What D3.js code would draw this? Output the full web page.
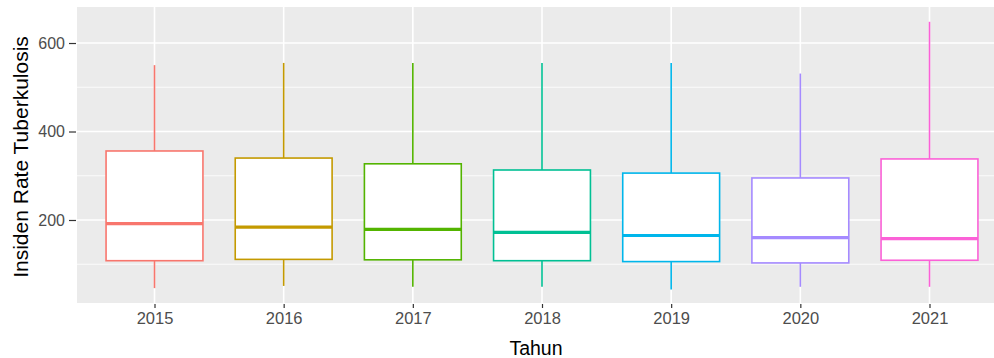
<!DOCTYPE html>
<html><head><meta charset="utf-8">
<script src="https://cdn.jsdelivr.net/npm/d3@7"></script>
<style>body{margin:0;background:#fff;overflow:hidden}svg{display:block}</style>
</head><body>
<svg id="c" width="994" height="358"></svg>
<script>
const years = ["2015","2016","2017","2018","2019","2020","2021"];
const whiskerLow = [46, 51, 49, 49, 43, 49, 49];
const q1 = [108, 111, 110, 108, 106, 103, 109];
const median = [192, 184, 179, 172, 165, 160, 158];
const q3 = [356, 340, 327, 313, 306, 295, 338];
const whiskerHigh = [550, 555, 555, 555, 555, 531, 648];
const colors = ["#F8766D","#C49A00","#53B400","#00C094","#00B6EB","#A58AFF","#FB61D7"];
const yTicks = [200, 400, 600];
const yMinor = [100, 300, 500];

const svg = d3.select("#c");
const L = 77, R = 1007, T = 7, B = 303;
const x = d3.scalePoint().domain(years).range([L, R]).padding(0.6);
const y = d3.scaleLinear().domain([12.4, 681.4]).range([B, T]);
const boxW = x.step() * 0.75;

svg.append("rect").attr("x", L).attr("y", T).attr("width", R - L).attr("height", B - T).attr("fill", "#EBEBEB");
const g = svg.append("g");
yMinor.forEach(v => g.append("line").attr("x1", L).attr("x2", R).attr("y1", y(v)).attr("y2", y(v)).attr("stroke", "#fff").attr("stroke-width", 0.8));
yTicks.forEach(v => g.append("line").attr("x1", L).attr("x2", R).attr("y1", y(v)).attr("y2", y(v)).attr("stroke", "#fff").attr("stroke-width", 1.6));
years.forEach(yr => g.append("line").attr("x1", x(yr)).attr("x2", x(yr)).attr("y1", T).attr("y2", B).attr("stroke", "#fff").attr("stroke-width", 1.6));

const data = years.map((yr, i) => ({yr, lo: whiskerLow[i], q1: q1[i], med: median[i], q3: q3[i], hi: whiskerHigh[i], c: colors[i]}));
const bx = svg.append("g").selectAll("g").data(data).join("g");
bx.append("line").attr("x1", d => x(d.yr)).attr("x2", d => x(d.yr)).attr("y1", d => y(d.q3)).attr("y2", d => y(d.hi)).attr("stroke", d => d.c).attr("stroke-width", 1.6);
bx.append("line").attr("x1", d => x(d.yr)).attr("x2", d => x(d.yr)).attr("y1", d => y(d.q1)).attr("y2", d => y(d.lo)).attr("stroke", d => d.c).attr("stroke-width", 1.6);
bx.append("rect").attr("x", d => x(d.yr) - boxW / 2).attr("width", boxW).attr("y", d => y(d.q3)).attr("height", d => y(d.q1) - y(d.q3)).attr("fill", "#fff").attr("stroke", d => d.c).attr("stroke-width", 1.6);
bx.append("line").attr("x1", d => x(d.yr) - boxW / 2).attr("x2", d => x(d.yr) + boxW / 2).attr("y1", d => y(d.med)).attr("y2", d => y(d.med)).attr("stroke", d => d.c).attr("stroke-width", 3.2);

const font = "Liberation Sans, Arial, sans-serif";
const ya = svg.append("g").attr("transform", `translate(${L},0)`).call(d3.axisLeft(y).tickValues(yTicks).tickSize(8).tickPadding(4));
ya.select(".domain").remove();
ya.selectAll(".tick line").attr("stroke", "#333").attr("stroke-width", 1.2).attr("x2", -8).attr("x1", -1);
ya.selectAll("text").attr("fill", "#4D4D4D").style("font-family", font).style("font-size", "16px");
const xa = svg.append("g").attr("transform", `translate(0,${B})`).call(d3.axisBottom(x).tickSize(5).tickPadding(4));
xa.select(".domain").remove();
xa.selectAll(".tick line").attr("stroke", "#333").attr("stroke-width", 1.2).attr("y1", 1);
xa.selectAll("text").attr("fill", "#4D4D4D").style("font-family", font).style("font-size", "16.5px");

svg.append("text").attr("x", (L + R) / 2 - 6).attr("y", 355).attr("text-anchor", "middle").style("font-family", font).style("font-size", "19.5px").attr("fill", "#000").text("Tahun");
svg.append("text").attr("transform", `translate(28,${(T + B) / 2 + 2}) rotate(-90)`).attr("text-anchor", "middle").style("font-family", font).style("font-size", "21px").attr("fill", "#000").text("Insiden Rate Tuberkulosis");
</script>
</body></html>
